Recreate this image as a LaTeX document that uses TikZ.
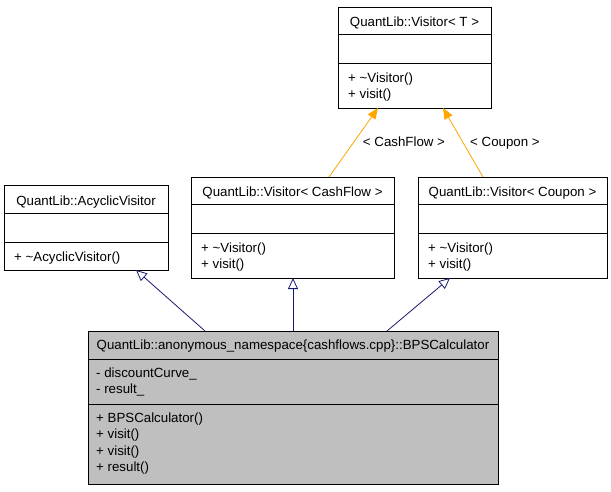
\documentclass[tikz,border=0pt]{standalone}
\usepackage{fontspec}
\setmainfont{Liberation Sans}
\usetikzlibrary{arrows.meta,calc}
\definecolor{edgeblue}{RGB}{25,25,112}
\definecolor{edgeorange}{RGB}{255,165,0}
\definecolor{bpsgray}{RGB}{191,191,191}
\begin{document}
\begin{tikzpicture}[x=1pt,y=-1pt,
  classbox/.style={draw=black, line width=0.9pt, anchor=north west, inner sep=0pt, outer sep=0pt},
  divider/.style={draw=black, line width=0.9pt},
  txt/.style={font=\fontsize{13.3}{15}\selectfont, inner sep=0pt, anchor=base west},
  ttl/.style={font=\fontsize{13.3}{15}\selectfont, inner sep=0pt, anchor=base},
  inh/.style={draw=edgeblue, line width=0.8pt, -{Triangle[open, length=11pt, width=10pt, fill=white]}},
  tmpl/.style={draw=edgeorange, line width=0.8pt, -{Triangle[length=11pt, width=9pt]}},
  elabel/.style={font=\fontsize{13.3}{15}\selectfont, inner sep=0pt, anchor=base}
]
\useasboundingbox (0,0) rectangle (611,491);

% Visitor<T>
\node[classbox, minimum width=153, minimum height=101] (vt) at (338,7) {};
\draw[divider] ($(vt.north west)+(0,27)$) -- ($(vt.north east)+(0,27)$);
\draw[divider] ($(vt.north west)+(0,56)$) -- ($(vt.north east)+(0,56)$);
\node[ttl] (vtT) at ($(vt.north)+(0,19)$) {QuantLib::Visitor< T >};
\node[txt] (vtA) at ($(vt.north west)+(10,75)$) {+ \textasciitilde Visitor()};
\node[txt] (vtB) at ($(vt.north west)+(10,91)$) {+ visit()};

% AcyclicVisitor
\node[classbox, minimum width=164, minimum height=85] (acyc) at (4,185) {};
\draw[divider] ($(acyc.north west)+(0,28)$) -- ($(acyc.north east)+(0,28)$);
\draw[divider] ($(acyc.north west)+(0,57)$) -- ($(acyc.north east)+(0,57)$);
\node[ttl] (acT) at ($(acyc.north)+(0,20)$) {QuantLib::AcyclicVisitor};
\node[txt] (acA) at ($(acyc.north west)+(10,76)$) {+ \textasciitilde AcyclicVisitor()};

% Visitor<CashFlow>
\node[classbox, minimum width=203, minimum height=101] (cf) at (191,177) {};
\draw[divider] ($(cf.north west)+(0,27)$) -- ($(cf.north east)+(0,27)$);
\draw[divider] ($(cf.north west)+(0,56)$) -- ($(cf.north east)+(0,56)$);
\node[ttl] (cfT) at ($(cf.north)+(0,19)$) {QuantLib::Visitor< CashFlow >};
\node[txt] (cfA) at ($(cf.north west)+(10,75)$) {+ \textasciitilde Visitor()};
\node[txt] (cfB) at ($(cf.north west)+(10,91)$) {+ visit()};

% Visitor<Coupon>
\node[classbox, minimum width=189, minimum height=101] (cp) at (418,177) {};
\draw[divider] ($(cp.north west)+(0,27)$) -- ($(cp.north east)+(0,27)$);
\draw[divider] ($(cp.north west)+(0,56)$) -- ($(cp.north east)+(0,56)$);
\node[ttl] (cpT) at ($(cp.north)+(0,19)$) {QuantLib::Visitor< Coupon >};
\node[txt] (cpA) at ($(cp.north west)+(10,75)$) {+ \textasciitilde Visitor()};
\node[txt] (cpB) at ($(cp.north west)+(10,91)$) {+ visit()};

% BPSCalculator
\node[classbox, fill=bpsgray, minimum width=410, minimum height=153] (bps) at (88,331) {};
\draw[divider] ($(bps.north west)+(0,28)$) -- ($(bps.north east)+(0,28)$);
\draw[divider] ($(bps.north west)+(0,73)$) -- ($(bps.north east)+(0,73)$);
\node[ttl] (bpT) at ($(bps.north)+(0,18)$) {QuantLib::anonymous\_namespace\{cashflows.cpp\}::BPSCalculator};
\node[txt] (bpA) at ($(bps.north west)+(8,46)$) {- discountCurve\_};
\node[txt] (bpB) at ($(bps.north west)+(8,62.5)$) {- result\_};
\node[txt] (bpC) at ($(bps.north west)+(8,91)$) {+ BPSCalculator()};
\node[txt] (bpD) at ($(bps.north west)+(8,107.5)$) {+ visit()};
\node[txt] (bpE) at ($(bps.north west)+(8,124)$) {+ visit()};
\node[txt] (bpF) at ($(bps.north west)+(8,140.5)$) {+ result()};

% inheritance edges
\draw[inh] ($(bps.north west)+(117,0)$) -- ($(acyc.south west)+(132,0)$);
\draw[inh] ($(bps.north west)+(205,0)$) -- ($(cf.south west)+(102,0)$);
\draw[inh] ($(bps.north west)+(299,0)$) -- ($(cp.south west)+(32,0)$);

% template instantiation edges
\draw[tmpl] ($(cf.north west)+(138,0)$) -- ($(vt.south west)+(40,0)$);
\draw[tmpl] ($(cp.north west)+(65,0)$) -- ($(vt.south west)+(105,0)$);
\node[elabel] (lcf) at (404,146.5) {< CashFlow >};
\node[elabel] (lcp) at (505,146.5) {< Coupon >};
\end{tikzpicture}
\end{document}
